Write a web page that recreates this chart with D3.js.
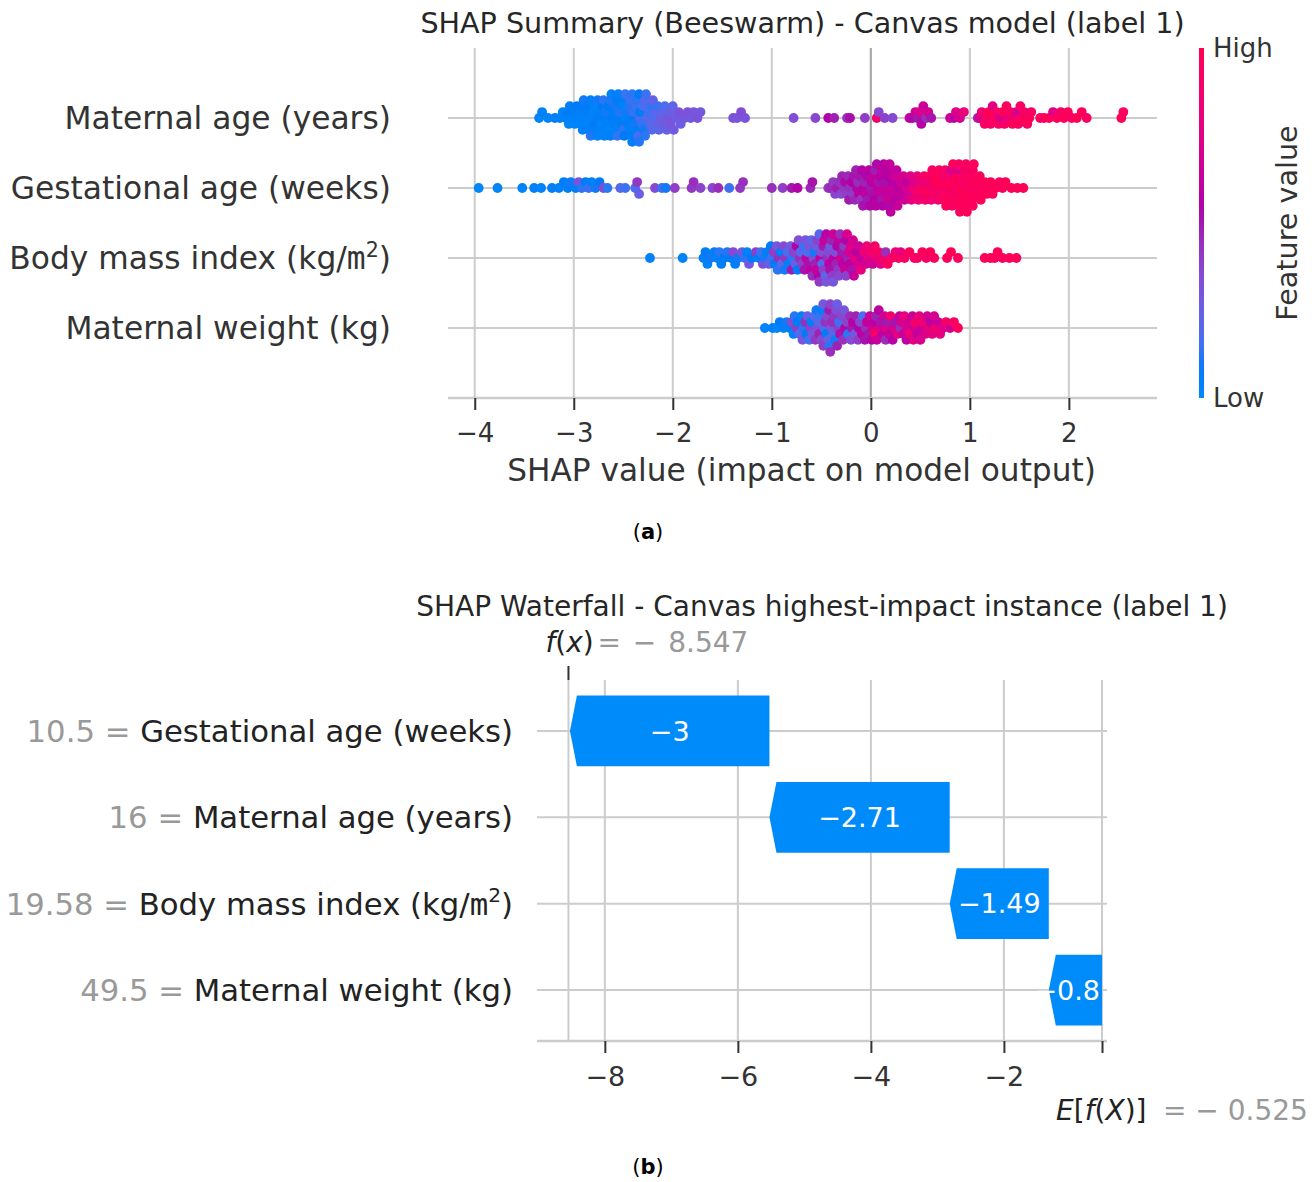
<!DOCTYPE html>
<html>
<head>
<meta charset="utf-8">
<script src="https://cdn.jsdelivr.net/npm/d3@7"></script>
<style>
  body { margin: 0; background: #fff; }
  svg { display: block; }
  text { font-family: "DejaVu Sans", sans-serif; }
</style>
</head>
<body>
<svg id="chart" width="1314" height="1182"></svg>
<script>
// ---------------- Beeswarm data: [SHAP value, normalised feature value] ----------------
const beeswarmFeatures = ["Maternal age (years)", "Gestational age (weeks)", "Body mass index (kg/m²)", "Maternal weight (kg)"];

const maternalAge = [
  [-3.35,.03],[-3.32,.05],[-3.26,.02],[-3.19,.06],[-3.14,.04],[-3.11,.03],
  [-3.08,.05],[-3.07,.08],[-3.05,.03],[-3.04,.06],
  [-3.01,.04],[-3.00,.07],[-2.99,.02],[-2.97,.09],[-2.96,.05],
  [-2.94,.06],[-2.93,.03],[-2.92,.08],[-2.91,.05],[-2.90,.10],[-2.89,.04],
  [-2.87,.07],[-2.86,.03],[-2.85,.09],[-2.84,.05],[-2.83,.06],[-2.83,.11],[-2.82,.04],
  [-2.80,.05],[-2.79,.08],[-2.78,.03],[-2.77,.06],[-2.76,.10],[-2.76,.04],[-2.75,.07],
  [-2.73,.06],[-2.72,.03],[-2.71,.09],[-2.70,.05],[-2.70,.12],[-2.69,.04],[-2.68,.07],[-2.68,.10],
  [-2.66,.05],[-2.65,.08],[-2.64,.03],[-2.63,.11],[-2.63,.06],[-2.62,.04],[-2.61,.09],[-2.61,.07],
  [-2.59,.06],[-2.58,.10],[-2.57,.04],[-2.56,.08],[-2.56,.13],[-2.55,.05],[-2.54,.07],[-2.54,.11],
  [-2.52,.08],[-2.51,.05],[-2.50,.12],[-2.49,.06],[-2.49,.09],[-2.48,.14],[-2.47,.04],[-2.47,.10],
  [-2.45,.07],[-2.44,.11],[-2.43,.05],[-2.43,.15],[-2.42,.08],[-2.41,.12],[-2.41,.06],[-2.40,.09],[-2.40,.13],
  [-2.38,.10],[-2.37,.14],[-2.36,.07],[-2.36,.12],[-2.35,.16],[-2.34,.09],[-2.34,.11],[-2.33,.18],[-2.33,.08],
  [-2.31,.13],[-2.30,.17],[-2.29,.10],[-2.28,.20],[-2.28,.12],[-2.27,.15],[-2.26,.18],
  [-2.24,.16],[-2.23,.21],[-2.22,.13],[-2.21,.19],[-2.20,.23],[-2.19,.17],
  [-2.17,.20],[-2.16,.24],[-2.15,.15],[-2.14,.22],[-2.12,.26],
  [-2.10,.21],[-2.09,.27],[-2.08,.18],[-2.06,.24],[-2.05,.29],
  [-2.03,.25],[-2.02,.30],[-2.00,.22],[-1.99,.28],
  [-1.96,.27],[-1.94,.31],[-1.92,.26],
  [-1.88,.29],[-1.85,.32],[-1.82,.28],[-1.79,.30],[-1.75,.31],[-1.72,.29],
  [-1.39,.32],[-1.35,.30],[-1.31,.34],[-1.27,.31],
  [-0.78,.33],[-0.56,.36],[-0.43,.56],[-0.37,.48],[-0.24,.44],[-0.21,.53],
  [-0.06,.40],[0.06,.88],[0.08,.36],[0.14,.38],[0.22,.35],
  [0.39,.62],[0.42,.55],[0.45,.68],[0.47,.50],[0.49,.72],[0.51,.58],[0.53,.65],[0.56,.45],[0.58,.70],[0.61,.52],
  [0.80,.66],[0.84,.60],[0.86,.74],[0.90,.70],[0.94,.82],
  [1.08,.48],[1.10,.72],[1.12,.86],
  [1.15,.95],[1.17,.90],[1.19,1.0],[1.21,.93],[1.23,.76],[1.25,.97],[1.27,.88],[1.29,.94],[1.31,.70],[1.33,.98],
  [1.35,.91],[1.37,.96],[1.39,.82],[1.41,.95],[1.43,.99],[1.45,.90],[1.47,.72],[1.49,.96],[1.51,.93],[1.53,.98],
  [1.55,.88],[1.58,.95],[1.60,.99],[1.62,.92],
  [1.71,.96],[1.75,.93],[1.80,.98],[1.84,.75],[1.88,.95],[1.92,.90],[1.95,.97],
  [1.99,.97],[2.03,.92],[2.08,.99],[2.13,.96],[2.18,.94],
  [2.53,.98],[2.55,.95]
];

const gestationalAge = [
  [-3.96,.02],[-3.77,.03],[-3.52,.04],[-3.40,.05],[-3.33,.04],[-3.22,.06],[-3.15,.05],
  [-3.10,.08],[-3.06,.06],[-3.03,.10],[-2.98,.07],[-2.95,.30],[-2.92,.12],[-2.88,.08],[-2.85,.15],
  [-2.82,.05],[-2.78,.10],[-2.74,.09],[-2.70,.35],[-2.66,.12],
  [-2.53,.20],[-2.48,.15],[-2.38,.18],[-2.36,.42],[-2.34,.25],
  [-2.18,.35],[-2.11,.15],[-2.07,.10],[-1.98,.40],
  [-1.81,.42],[-1.79,.45],[-1.72,.38],[-1.60,.37],[-1.54,.45],[-1.43,.15],[-1.32,.42],[-1.29,.44],
  [-1.00,.45],[-0.89,.40],[-0.80,.50],[-0.74,.55],[-0.61,.47],[-0.59,.52],
  [-0.43,.40],[-0.41,.47],[-0.38,.42],
  [-0.36,.38],[-0.34,.50],[-0.32,.44],[-0.30,.36],
  [-0.29,.48],[-0.27,.42],[-0.26,.54],[-0.24,.39],[-0.23,.47],
  [-0.22,.50],[-0.21,.44],[-0.19,.56],[-0.18,.41],[-0.17,.52],[-0.16,.47],
  [-0.15,.49],[-0.14,.54],[-0.13,.45],[-0.12,.58],[-0.11,.51],[-0.10,.43],[-0.09,.55],
  [-0.08,.52],[-0.07,.57],[-0.06,.48],[-0.05,.60],[-0.04,.54],[-0.03,.50],[-0.02,.58],
  [-0.01,.55],[0.00,.50],[0.01,.59],[0.02,.53],[0.03,.62],[0.04,.56],[0.04,.49],[0.05,.58],
  [0.06,.54],[0.07,.60],[0.08,.52],[0.09,.63],[0.10,.57],[0.11,.51],[0.11,.61],[0.12,.55],
  [0.13,.58],[0.14,.64],[0.15,.53],[0.16,.61],[0.17,.56],[0.17,.66],[0.18,.59],[0.19,.54],[0.19,.62],
  [0.20,.60],[0.21,.65],[0.22,.57],[0.23,.63],[0.24,.68],[0.25,.59],[0.26,.62],
  [0.27,.64],[0.28,.58],[0.30,.67],[0.31,.62],[0.33,.70],
  [0.34,.65],[0.36,.72],[0.37,.60],[0.39,.68],[0.40,.74],
  [0.41,.78],[0.43,.85],[0.44,.74],[0.46,.88],[0.47,.80],
  [0.48,.86],[0.50,.92],[0.51,.82],[0.53,.90],[0.54,.95],
  [0.55,.88],[0.56,.94],[0.57,.84],[0.59,.97],[0.60,.91],[0.61,.87],
  [0.62,.93],[0.63,.89],[0.64,.97],[0.66,.91],[0.67,.99],[0.68,.86],
  [0.69,.95],[0.70,.90],[0.71,.98],[0.72,.93],[0.73,.88],[0.74,.96],[0.75,.92],
  [0.76,.97],[0.77,.91],[0.78,.99],[0.79,.94],[0.80,.89],[0.81,.96],[0.81,.72],[0.82,.93],
  [0.83,.98],[0.84,.92],[0.85,.96],[0.86,.90],[0.87,.99],[0.87,.94],[0.88,.75],[0.89,.97],[0.89,.93],
  [0.90,.95],[0.91,.99],[0.92,.91],[0.93,.97],[0.94,.93],[0.94,.98],[0.95,.90],[0.96,.96],[0.96,.94],
  [0.97,.98],[0.98,.92],[0.99,.96],[1.00,.99],[1.01,.94],[1.02,.97],[1.03,.91],[1.03,.95],
  [1.04,.97],[1.06,.93],[1.07,.99],[1.08,.95],[1.10,.96],
  [1.11,.98],[1.13,.94],[1.15,.97],[1.17,.99],
  [1.19,.96],[1.21,.98],[1.23,.95],
  [1.26,.99],[1.30,.97],[1.33,.96],[1.36,.98],[1.42,.99],[1.48,.97],[1.54,.98]
];

const bodyMassIndex = [
  [-2.23,.05],[-1.90,.04],
  [-1.69,.05],[-1.67,.08],[-1.65,.03],
  [-1.62,.10],[-1.58,.06],
  [-1.55,.04],[-1.53,.12],[-1.51,.07],
  [-1.48,.09],[-1.45,.11],
  [-1.41,.08],[-1.39,.35],[-1.37,.06],
  [-1.34,.10],[-1.30,.30],
  [-1.27,.12],[-1.25,.05],[-1.23,.28],
  [-1.20,.09],[-1.16,.40],
  [-1.13,.07],[-1.11,.15],[-1.09,.33],
  [-1.07,.10],[-1.05,.06],[-1.03,.25],[-1.01,.08],
  [-1.00,.15],[-0.98,.40],[-0.97,.08],[-0.95,.30],[-0.94,.12],
  [-0.93,.45],[-0.91,.06],[-0.90,.20],[-0.88,.35],[-0.87,.10],
  [-0.86,.42],[-0.84,.18],[-0.83,.05],[-0.81,.28],[-0.80,.50],
  [-0.79,.12],[-0.78,.38],[-0.76,.25],[-0.75,.55],[-0.74,.08],[-0.73,.33],
  [-0.72,.45],[-0.71,.20],[-0.69,.40],[-0.68,.15],[-0.67,.52],[-0.66,.30],
  [-0.65,.62],[-0.64,.18],[-0.63,.52],[-0.62,.30],[-0.61,.60],[-0.60,.22],[-0.59,.45],
  [-0.58,.35],[-0.57,.10],[-0.56,.48],[-0.55,.28],[-0.55,.62],[-0.54,.38],[-0.53,.55],[-0.52,.20],[-0.52,.42],
  [-0.51,.62],[-0.50,.33],[-0.49,.18],[-0.48,.50],[-0.48,.40],[-0.47,.65],[-0.46,.22],[-0.45,.58],[-0.45,.30],
  [-0.44,.45],[-0.43,.35],[-0.42,.60],[-0.41,.28],[-0.41,.52],[-0.40,.48],[-0.39,.40],[-0.38,.65],[-0.38,.30],
  [-0.37,.58],[-0.36,.33],[-0.35,.48],[-0.34,.55],[-0.33,.42],[-0.32,.62],[-0.32,.36],[-0.31,.45],
  [-0.30,.70],[-0.29,.50],[-0.28,.58],[-0.27,.42],[-0.26,.66],[-0.25,.55],[-0.25,.38],[-0.24,.72],
  [-0.23,.48],[-0.22,.68],[-0.21,.60],[-0.20,.75],[-0.19,.52],[-0.18,.70],[-0.17,.64],
  [-0.16,.78],[-0.14,.58],[-0.13,.72],[-0.12,.66],[-0.10,.80],
  [-0.09,.62],[-0.07,.82],[-0.05,.70],[-0.04,.85],
  [-0.02,.75],[0.00,.88],[0.02,.66],[0.04,.90],
  [0.06,.82],[0.08,.92],[0.10,.78],
  [0.13,.88],[0.15,.45],[0.17,.95],
  [0.21,.90],[0.25,.86],[0.28,.95],[0.30,.80],[0.34,.92],[0.39,.97],[0.44,.88],[0.47,.93],
  [0.52,.96],[0.56,.90],[0.60,.98],[0.64,.94],
  [0.77,.96],[0.81,.99],[0.88,.95],
  [1.15,.97],[1.21,.99],[1.25,.96],[1.28,.98],[1.33,.95],[1.40,.99],[1.47,.97]
];

const maternalWeight = [
  [-1.07,.04],[-0.99,.06],[-0.95,.03],[-0.92,.08],[-0.88,.05],[-0.85,.10],
  [-0.82,.07],[-0.80,.35],[-0.78,.04],[-0.77,.12],
  [-0.75,.40],[-0.74,.09],[-0.72,.20],[-0.70,.05],[-0.69,.30],
  [-0.68,.12],[-0.66,.45],[-0.65,.08],[-0.64,.25],[-0.62,.15],
  [-0.61,.38],[-0.60,.06],[-0.59,.30],[-0.57,.18],[-0.56,.42],[-0.55,.10],
  [-0.54,.33],[-0.53,.22],[-0.52,.48],[-0.51,.14],[-0.50,.36],[-0.49,.05],[-0.48,.40],[-0.48,.28],
  [-0.47,.18],[-0.46,.44],[-0.45,.08],[-0.44,.35],[-0.43,.25],[-0.42,.50],[-0.42,.12],[-0.41,.38],[-0.41,.45],
  [-0.40,.30],[-0.39,.45],[-0.38,.20],[-0.37,.42],[-0.36,.10],[-0.35,.33],[-0.34,.48],[-0.34,.26],
  [-0.33,.40],[-0.32,.15],[-0.31,.52],[-0.29,.36],[-0.28,.44],[-0.27,.30],
  [-0.26,.55],[-0.24,.38],[-0.23,.12],[-0.21,.46],[-0.20,.34],
  [-0.19,.50],[-0.18,.58],[-0.16,.28],[-0.15,.48],[-0.13,.40],
  [-0.12,.55],[-0.11,.36],[-0.09,.60],[-0.08,.18],[-0.06,.52],
  [-0.05,.45],[-0.04,.62],[-0.02,.50],[-0.01,.66],[0.01,.55],
  [0.02,.70],[0.03,.58],[0.04,.92],[0.05,.48],[0.06,.65],[0.08,.60],
  [0.09,.72],[0.10,.52],[0.12,.62],[0.14,.68],[0.15,.45],
  [0.16,.75],[0.17,.50],[0.19,.63],[0.20,.88],[0.22,.58],
  [0.23,.70],[0.25,.52],[0.27,.78],[0.29,.62],
  [0.30,.45],[0.31,.72],[0.33,.66],[0.34,.82],[0.36,.60],
  [0.37,.74],[0.38,.68],[0.40,.85],[0.42,.64],[0.43,.76],
  [0.44,.70],[0.45,.90],[0.47,.62],[0.49,.80],[0.50,.72],
  [0.52,.66],[0.53,.86],[0.55,.74],[0.57,.68],
  [0.59,.82],[0.60,.60],[0.62,.78],[0.64,.72],
  [0.66,.88],[0.68,.65],[0.70,.80],
  [0.73,.75],[0.76,.90],[0.80,.70],[0.84,.92],[0.88,.95]
];

const beeswarmRows = [maternalAge, gestationalAge, bodyMassIndex, maternalWeight];
const beeswarmTicks = [-4, -3, -2, -1, 0, 1, 2];

// ---------------- Waterfall data ----------------
const waterfallFeatures = ["Gestational age (weeks)", "Maternal age (years)", "Body mass index (kg/m²)", "Maternal weight (kg)"];
const waterfallFeatureValues = ["10.5", "16", "19.58", "49.5"];
const waterfallShap = [-3, -2.71, -1.49, -0.8];
const waterfallTicks = [-8, -6, -4, -2];
const expectedValue = -0.525;
const modelOutput = -8.547;

// ---------------- shared helpers ----------------
const svg = d3.select("#chart");
const BLUE = "#008bfb";
// blue -> purple -> red ramp in CIE LCh (lightness dips to 40 in the middle)
const colorOf = t => {
  const L = t < 0.5 ? 54 - 28 * t : 40 + 28 * (t - 0.5);
  return d3.lch(L, 70 + 20 * t, 266.93 + 113.39 * t).formatHex();
};
const GRID = "#cccccc", INK = "#333333";
const minus = s => String(s).replace("-", "\u2212");

// writes a label; a unit "m²" is set with a narrow m and a raised 2
function writeLabel(sel, name, size) {
  const i = name.indexOf("²");
  if (i < 0) { sel.append("tspan").text(name); return; }
  const lift = size * 0.4;
  sel.append("tspan").text(name.slice(0, i - 1));
  sel.append("tspan").attr("font-family", '"DejaVu Sans Mono", monospace').text(name[i - 1]);
  sel.append("tspan").attr("dy", -lift).attr("font-size", size * 0.66).text("2");
  sel.append("tspan").attr("dy", lift).text(name.slice(i + 1));
}

// shap-like beeswarm: bin along x, stack each bin alternately above/below
function swarmLayers(points, binWidth) {
  const lo = d3.min(points, d => d[0]);
  const bin = points.map(d => Math.round((d[0] - lo) / binWidth));
  const order = d3.range(points.length).sort((a, b) => bin[a] - bin[b] || a - b);
  const layer = new Array(points.length);
  let last = null, k = 0;
  for (const i of order) {
    if (bin[i] !== last) k = 0;
    layer[i] = Math.ceil(k / 2) * (k % 2 ? 1 : -1);
    k++; last = bin[i];
  }
  return layer;
}

// =============== (a) Beeswarm ===============
const xB = d3.scaleLinear().domain([-4.27, 2.89]).range([448, 1157]);
const yB = d3.scaleLinear().domain([-1, beeswarmFeatures.length]).range([398, 48]);
const rowPos = i => beeswarmFeatures.length - 1 - i;

const gA = svg.append("g");

// vertical grid
gA.selectAll("line.vgrid").data(beeswarmTicks).join("line")
  .attr("x1", d => xB(d)).attr("x2", d => xB(d))
  .attr("y1", yB(beeswarmFeatures.length)).attr("y2", yB(-1))
  .attr("stroke", GRID).attr("stroke-width", 2);

// row lines
gA.selectAll("line.hgrid").data(beeswarmFeatures).join("line")
  .attr("x1", xB.range()[0]).attr("x2", xB.range()[1])
  .attr("y1", (d, i) => yB(rowPos(i))).attr("y2", (d, i) => yB(rowPos(i)))
  .attr("stroke", GRID).attr("stroke-width", 2);

// zero reference line
gA.append("line")
  .attr("x1", xB(0)).attr("x2", xB(0))
  .attr("y1", yB(beeswarmFeatures.length)).attr("y2", yB(-1))
  .attr("stroke", "#a8a8a8").attr("stroke-width", 2);

// dots
beeswarmRows.forEach((pts, i) => {
  const layers = swarmLayers(pts, 0.07);
  const m = d3.max(layers, Math.abs) || 1;
  gA.append("g").selectAll("circle").data(pts).join("circle")
    .attr("cx", d => xB(d[0]))
    .attr("cy", (d, j) => yB(rowPos(i) + 0.34 * layers[j] / m))
    .attr("r", 4.9)
    .attr("fill", d => colorOf(d[1]));
});

// x axis
gA.append("line")
  .attr("x1", xB.range()[0]).attr("x2", xB.range()[1])
  .attr("y1", yB(-1)).attr("y2", yB(-1))
  .attr("stroke", GRID).attr("stroke-width", 2.5);
const axA = gA.append("g").attr("transform", `translate(0,${yB(-1)})`)
  .call(d3.axisBottom(xB).tickValues(beeswarmTicks).tickSize(12).tickPadding(14).tickFormat(d => minus(d)));
axA.select(".domain").remove();
axA.selectAll(".tick line").attr("stroke", INK).attr("stroke-width", 2);
axA.selectAll(".tick text").attr("font-size", 26).attr("fill", INK)
  .attr("font-family", '"DejaVu Sans", sans-serif');

gA.append("text").attr("x", xB(-0.7)).attr("y", 481).attr("text-anchor", "middle")
  .attr("font-size", 31.2).attr("fill", INK).text("SHAP value (impact on model output)");

// feature labels
beeswarmFeatures.forEach((name, i) => {
  const t = gA.append("text").attr("x", 391).attr("y", yB(rowPos(i))).attr("dy", "0.36em")
    .attr("text-anchor", "end").attr("font-size", 31.3).attr("fill", INK);
  writeLabel(t, name, 31.3);
});

// title
gA.append("text").attr("x", (xB.range()[0] + xB.range()[1]) / 2).attr("y", 33)
  .attr("text-anchor", "middle").attr("font-size", 28.6).attr("fill", "#262626")
  .text("SHAP Summary (Beeswarm) - Canvas model (label 1)");

// colour bar
const grad = svg.append("defs").append("linearGradient").attr("id", "fv")
  .attr("x1", 0).attr("y1", 1).attr("x2", 0).attr("y2", 0);
d3.range(0, 1.0001, 0.05).forEach(t =>
  grad.append("stop").attr("offset", t).attr("stop-color", colorOf(t)));
gA.append("rect").attr("x", 1199).attr("y", yB(beeswarmFeatures.length))
  .attr("width", 5).attr("height", yB(-1) - yB(beeswarmFeatures.length)).attr("fill", "url(#fv)");
gA.append("text").attr("x", 1213).attr("y", yB(beeswarmFeatures.length)).attr("dy", "0.36em")
  .attr("font-size", 26).attr("fill", INK).text("High");
gA.append("text").attr("x", 1213).attr("y", yB(-1)).attr("dy", "0.36em")
  .attr("font-size", 26).attr("fill", INK).text("Low");
gA.append("text").attr("transform", `translate(1287,${(yB(-1) + yB(beeswarmFeatures.length)) / 2}) rotate(-90)`)
  .attr("text-anchor", "middle").attr("dy", "0.36em").attr("font-size", 28.6).attr("fill", INK)
  .text("Feature value");

// caption
const capA = svg.append("text").attr("x", 648).attr("y", 539).attr("text-anchor", "middle")
  .attr("font-family", '"Liberation Serif", serif').attr("font-size", 21).attr("fill", "#000");
capA.append("tspan").text("(");
capA.append("tspan").attr("font-weight", "bold").text("a");
capA.append("tspan").text(")");

// =============== (b) Waterfall ===============
const xW = d3.scaleLinear().domain([-9.02, -0.45]).range([537, 1107]);
const nW = waterfallFeatures.length;
const yW = d3.scaleLinear().domain([-0.59, nW - 1 + 0.59]).range([1041, 680]);
const rowW = i => nW - 1 - i;
const barH = 0.82 * (yW(0) - yW(1));
const headLen = 7;

const gB = svg.append("g");

// grid
const vgridW = waterfallTicks.concat([modelOutput, expectedValue]);
gB.selectAll("line.vg").data(vgridW).join("line")
  .attr("x1", d => xW(d)).attr("x2", d => xW(d))
  .attr("y1", yW.range()[1]).attr("y2", yW.range()[0])
  .attr("stroke", GRID).attr("stroke-width", 2);
gB.selectAll("line.hg").data(waterfallFeatures).join("line")
  .attr("x1", xW.range()[0]).attr("x2", xW.range()[1])
  .attr("y1", (d, i) => yW(rowW(i))).attr("y2", (d, i) => yW(rowW(i)))
  .attr("stroke", GRID).attr("stroke-width", 2);

// bars: accumulate from the expected value at the bottom up to f(x)
const ends = [];
let acc = expectedValue;
for (let i = nW - 1; i >= 0; i--) {
  const start = acc, end = acc + waterfallShap[i];
  ends[i] = { start, end };
  acc = end;
}
const fmtShap = v => (v < 0 ? "\u2212" : "+") + Math.abs(v).toFixed(2).replace(/\.?0+$/, "");

waterfallShap.forEach((v, i) => {
  const { start, end } = ends[i];
  const xs = xW(start), xe = xW(end);
  const yc = yW(rowW(i)), top = yc - barH / 2, bot = yc + barH / 2;
  const h = Math.min(headLen, xs - xe);
  gB.append("path")
    .attr("d", `M${xs},${top}L${xe + h},${top}L${xe},${yc}L${xe + h},${bot}L${xs},${bot}Z`)
    .attr("fill", BLUE);
  const lbl = gB.append("text").attr("x", xW((start + end) / 2)).attr("y", yc).attr("dy", "0.36em")
    .attr("text-anchor", "middle").attr("font-size", 27).attr("fill", "#fff").text(fmtShap(v));
  // a label wider than its bar is pinned to the bar's right end
  if (lbl.node().getComputedTextLength() > xs - xe) {
    lbl.attr("text-anchor", "end").attr("x", xs - 2);
  }
});

// y labels
waterfallFeatures.forEach((name, i) => {
  const t = gB.append("text").attr("x", 513).attr("y", yW(rowW(i))).attr("dy", "0.36em")
    .attr("text-anchor", "end").attr("font-size", 30.7).attr("fill", "#222");
  t.append("tspan").attr("fill", "#999999").text(waterfallFeatureValues[i] + " = ");
  writeLabel(t, name, 30.7);
});

// bottom axis
gB.append("line").attr("x1", xW.range()[0]).attr("x2", xW.range()[1])
  .attr("y1", yW.range()[0]).attr("y2", yW.range()[0])
  .attr("stroke", GRID).attr("stroke-width", 2.5);
const axB = gB.append("g").attr("transform", `translate(0,${yW.range()[0]})`)
  .call(d3.axisBottom(xW).tickValues(waterfallTicks.concat([expectedValue])).tickSize(12).tickPadding(14)
    .tickFormat(d => waterfallTicks.includes(d) ? minus(d) : ""));
axB.select(".domain").remove();
axB.selectAll(".tick line").attr("stroke", INK).attr("stroke-width", 2);
axB.selectAll(".tick text").attr("font-size", 27).attr("fill", INK)
  .attr("font-family", '"DejaVu Sans", sans-serif');

// top tick at f(x)
gB.append("line").attr("x1", xW(modelOutput)).attr("x2", xW(modelOutput))
  .attr("y1", yW.range()[1] - 14).attr("y2", yW.range()[1])
  .attr("stroke", INK).attr("stroke-width", 2);

const fmt3 = v => (v < 0 ? "= \u2212 " : "= ") + Math.abs(v).toFixed(3);

const fxT = gB.append("text").attr("x", xW(modelOutput) - 23).attr("y", 652)
  .attr("font-size", 28).attr("fill", "#222");
fxT.append("tspan").attr("font-style", "italic").text("f");
fxT.append("tspan").text("(");
fxT.append("tspan").attr("font-style", "italic").text("x");
fxT.append("tspan").text(")");
gB.append("text").attr("x", xW(modelOutput) + 29).attr("y", 652)
  .attr("font-size", 28).attr("fill", "#999999").attr("word-spacing", 3).text(fmt3(modelOutput));

const exT = gB.append("text").attr("x", xW(expectedValue) - 46).attr("y", 1120)
  .attr("font-size", 28).attr("fill", "#222");
exT.append("tspan").attr("font-style", "italic").text("E");
exT.append("tspan").text("[");
exT.append("tspan").attr("font-style", "italic").text("f");
exT.append("tspan").text("(");
exT.append("tspan").attr("font-style", "italic").text("X");
exT.append("tspan").text(")]");
gB.append("text").attr("x", xW(expectedValue) + 61).attr("y", 1120)
  .attr("font-size", 28).attr("fill", "#999999").text(fmt3(expectedValue));

// title
gB.append("text").attr("x", (xW.range()[0] + xW.range()[1]) / 2).attr("y", 616)
  .attr("text-anchor", "middle").attr("font-size", 28).attr("fill", "#262626")
  .text("SHAP Waterfall - Canvas highest-impact instance (label 1)");

// caption
const capB = svg.append("text").attr("x", 648).attr("y", 1174).attr("text-anchor", "middle")
  .attr("font-family", '"Liberation Serif", serif').attr("font-size", 21).attr("fill", "#000");
capB.append("tspan").text("(");
capB.append("tspan").attr("font-weight", "bold").text("b");
capB.append("tspan").text(")");
</script>
</body>
</html>
